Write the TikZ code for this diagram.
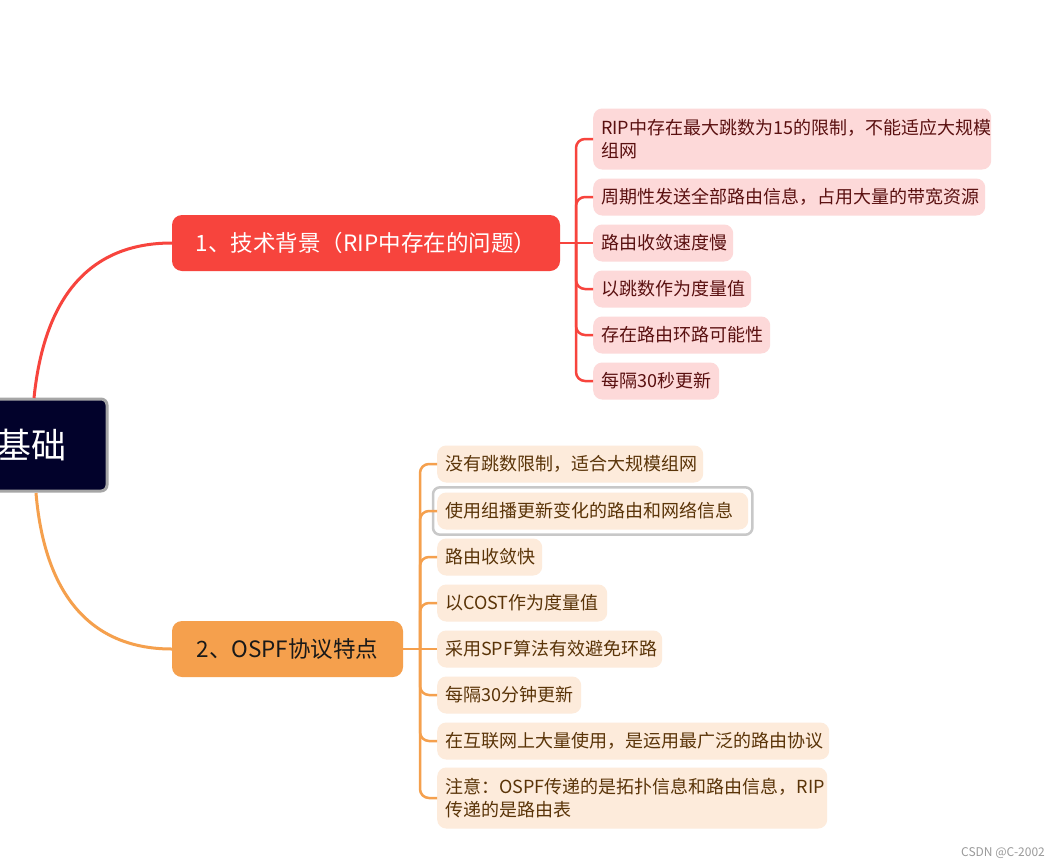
\documentclass[tikz,border=0pt]{standalone}
\usepackage{fontspec}
\setmainfont{Noto Sans CJK SC}
\usetikzlibrary{fit}
\definecolor{navy}{HTML}{02022B}
\definecolor{bred}{HTML}{F7443D}
\definecolor{bora}{HTML}{F5A04D}
\definecolor{lred}{HTML}{FDD9D9}
\definecolor{lora}{HTML}{FDEBDB}
\definecolor{tred}{HTML}{5A1010}
\definecolor{tora}{HTML}{5A3408}
\definecolor{selgray}{HTML}{C8C8C8}
\definecolor{rootgray}{HTML}{A6A6A6}
\definecolor{wmgray}{HTML}{9A9A9A}
\tikzset{
  rootbox/.style={fill=navy, draw=rootgray, line width=3pt, rounded corners=6pt, text=white,
    minimum height=92pt, inner xsep=40pt, inner ysep=0pt, text width=148pt, align=right,
    font=\fontsize{35}{40}\selectfont},
  branch/.style={rounded corners=10pt, minimum height=56pt, inner sep=0pt,
    font=\fontsize{22.5}{27}\selectfont},
  leaf/.style={rounded corners=9pt, anchor=west, inner xsep=8pt, inner ysep=0pt,
    minimum height=37pt, align=left, font=\fontsize{18}{23}\selectfont},
  leafr/.style={leaf, fill=lred, text=tred},
  leafo/.style={leaf, fill=lora, text=tora},
  rline/.style={draw=bred, line width=2.5pt},
  oline/.style={draw=bora, line width=2.5pt},
}
\begin{document}
\begin{tikzpicture}[x=1pt,y=-1pt]
\useasboundingbox (0,0) rectangle (1059,867);
\clip (0,0) rectangle (1059,867);
\fill[white] (0,0) rectangle (1059,867);

% root
\node[rootbox] (root) at (-7,445) {基础};

% branches
\node[branch, fill=bred, text=white, minimum width=388pt] (b1) at (366,243) {1、技术背景（RIP中存在的问题）};
\node[branch, fill=bora, text=black!90, minimum width=231pt] (b2) at (287.5,649) {2、OSPF协议特点};

% red leaves
\node[leafr, text width=382pt, minimum height=61pt] (r1) at (593,139) {RIP中存在最大跳数为15的限制，不能适应大规模\\组网};
\node[leafr, text width=376pt] (r2) at (593,197) {周期性发送全部路由信息，占用大量的带宽资源};
\node[leafr, text width=124pt] (r3) at (593,243) {路由收敛速度慢};
\node[leafr, text width=142pt] (r4) at (593,289) {以跳数作为度量值};
\node[leafr, text width=161pt] (r5) at (593,335) {存在路由环路可能性};
\node[leafr, text width=110pt] (r6) at (593,381) {每隔30秒更新};

% orange leaves
\node[leafo, text width=250pt] (o1) at (437,464) {没有跳数限制，适合大规模组网};
\node[leafo, text width=295pt] (o2) at (437,511) {使用组播更新变化的路由和网络信息};
\node[leafo, text width=89pt] (o3) at (437,557) {路由收敛快};
\node[leafo, text width=154pt] (o4) at (437,603) {以COST作为度量值};
\node[leafo, text width=209pt] (o5) at (437,649) {采用SPF算法有效避免环路};
\node[leafo, text width=128pt] (o6) at (437,695) {每隔30分钟更新};
\node[leafo, text width=376pt] (o7) at (437,741) {在互联网上大量使用，是运用最广泛的路由协议};
\node[leafo, text width=374pt, minimum height=61pt] (o8) at (437,798) {注意：OSPF传递的是拓扑信息和路由信息，RIP\\传递的是路由表};

% selection frame
\node[fit=(o2), inner xsep=4pt, inner ysep=5pt, draw=selgray, line width=2.5pt, rounded corners=7pt] (sel) {};

% curves from root
\coordinate (rt) at (34,398);
\coordinate (rb) at (36,493);
\draw[bred, line width=3pt] (rt) .. controls (45,290) and (95,243) .. (b1.west);
\draw[bora, line width=3pt] (rb) .. controls (45,600) and (95,649) .. (b2.west);

% red bracket
\coordinate (jr) at (576,243);
\draw[rline] (b1.east) -- (r3.west);
\foreach \n in {r1,r2,r4,r5,r6} \draw[rline, rounded corners=9pt] (jr) |- (\n.west);

% orange bracket
\coordinate (jo) at (420,649);
\draw[oline] (b2.east) -- (o5.west);
\foreach \n in {o1,o2,o3,o4,o6,o7,o8} \draw[oline, rounded corners=9pt] (jo) |- (\n.west);

% watermark
\node[anchor=east, text=wmgray, font=\fontsize{12}{14}\selectfont, inner sep=0pt] (wm) at (1045,853) {CSDN @C-2002};
\end{tikzpicture}
\end{document}
